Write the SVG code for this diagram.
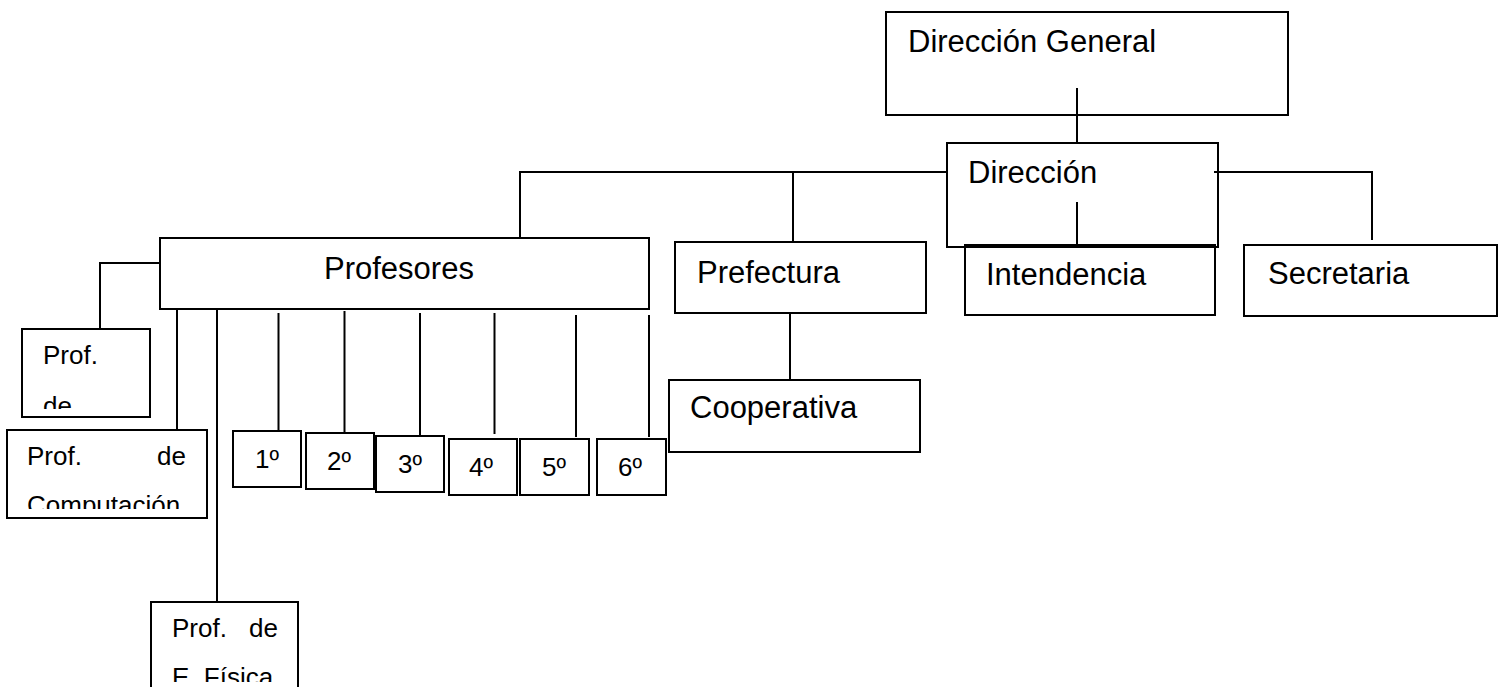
<svg xmlns="http://www.w3.org/2000/svg" width="1501" height="687" viewBox="0 0 1501 687">
<style>
.b{fill:none;stroke:#000;stroke-width:2}
.c{fill:none;stroke:#000;stroke-width:2}
.t{font-family:"Liberation Sans",Arial,sans-serif;font-size:31px;fill:#000}
.s{font-family:"Liberation Sans",Arial,sans-serif;font-size:26px;fill:#000}
.d{font-family:"Liberation Sans",Arial,sans-serif;font-size:26px;fill:#000}
</style>
<defs>
<clipPath id="cp1"><rect x="22" y="330" width="128" height="79"/></clipPath>
<clipPath id="cp2"><rect x="7" y="431" width="199" height="78"/></clipPath>
<clipPath id="cp3"><rect x="151" y="603" width="146" height="79"/></clipPath>
</defs>
<rect width="1501" height="687" fill="#fff"/>
<g id="connectors">
<path class="c" d="M1077 88V143"/>
<path class="c" d="M1077 202V245"/>
<path class="c" d="M947 172H520V238"/>
<path class="c" d="M793 172V241"/>
<path class="c" d="M1214 172H1372V240"/>
<path class="c" d="M790 313V380"/>
<path class="c" d="M160 263H100V329"/>
<path class="c" d="M177 310V430"/>
<path class="c" d="M217 310V602"/>
<path class="c" d="M278.5 313V431"/>
<path class="c" d="M344.5 311V433"/>
<path class="c" d="M420 313V436"/>
<path class="c" d="M494.5 313V434"/>
<path class="c" d="M576 315V437"/>
<path class="c" d="M649 315V437"/>
</g>
<g id="direccion-general"><rect class="b" x="886" y="12" width="402" height="103"/><text class="t" x="908" y="52">Dirección General</text></g>
<g id="direccion"><rect class="b" x="947" y="143" width="271" height="104"/><text class="t" x="968" y="183">Dirección</text></g>
<g id="profesores"><rect class="b" x="160" y="238" width="489" height="71"/><text class="t" x="324" y="279">Profesores</text></g>
<g id="prefectura"><rect class="b" x="675" y="242" width="251" height="71"/><text class="t" x="697" y="283">Prefectura</text></g>
<g id="intendencia"><rect class="b" x="965" y="245" width="250" height="70"/><text class="t" x="986" y="285">Intendencia</text></g>
<g id="secretaria"><rect class="b" x="1244" y="245" width="253" height="71"/><text class="t" x="1268" y="284">Secretaria</text></g>
<g id="cooperativa"><rect class="b" x="669" y="380" width="251" height="72"/><text class="t" x="690" y="418">Cooperativa</text></g>
<g id="prof-de"><rect class="b" x="22" y="329" width="128" height="88"/><g clip-path="url(#cp1)"><text class="s" x="43" y="364">Prof.</text><text class="s" x="43" y="415">de</text></g></g>
<g id="prof-computacion"><rect class="b" x="7" y="430" width="200" height="88"/><g clip-path="url(#cp2)"><text class="s" x="27" y="465">Prof.</text><text class="s" x="186" y="465" text-anchor="end">de</text><text class="s" x="27" y="514">Computación</text></g></g>
<g id="prof-efisica"><rect class="b" x="151" y="602" width="147" height="100"/><g clip-path="url(#cp3)"><text class="s" x="172" y="637">Prof.</text><text class="s" x="278" y="637" text-anchor="end">de</text><text class="s" x="172" y="686">E. Física</text></g></g>
<g id="g1"><rect class="b" x="233" y="431" width="68" height="56"/><text class="d" x="255" y="468">1º</text></g>
<g id="g2"><rect class="b" x="306" y="433" width="68" height="56"/><text class="d" x="327" y="470">2º</text></g>
<g id="g3"><rect class="b" x="376" y="436" width="68" height="56"/><text class="d" x="398" y="473">3º</text></g>
<g id="g4"><rect class="b" x="449" y="439" width="68" height="56"/><text class="d" x="469" y="476">4º</text></g>
<g id="g5"><rect class="b" x="520" y="439" width="69" height="56"/><text class="d" x="542" y="476">5º</text></g>
<g id="g6"><rect class="b" x="597" y="439" width="69" height="56"/><text class="d" x="618" y="476">6º</text></g>
</svg>
